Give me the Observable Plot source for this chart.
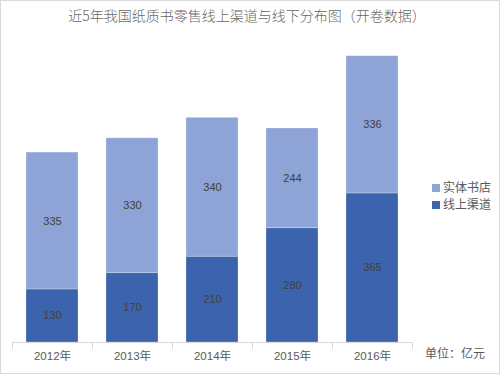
<!DOCTYPE html>
<html><head><meta charset="utf-8">
<script src="https://cdn.jsdelivr.net/npm/d3@7"></script>
<script src="https://cdn.jsdelivr.net/npm/@observablehq/plot@0.6"></script>
<style>
body{margin:0;background:#fff;}
#wrap{position:relative;width:500px;height:374px;overflow:hidden;font-family:"Liberation Sans","Noto Sans CJK SC",sans-serif;}
#title{height:30px;line-height:30px;text-align:center;font-size:14px;color:#666;font-family:"Noto Sans CJK SC",sans-serif;font-weight:300;padding-right:6px;}
#border{position:absolute;left:0;top:0;width:500px;height:374px;box-sizing:border-box;border:1px solid #d9d9d9;pointer-events:none;}
.leg{position:absolute;left:432px;font-size:12px;color:#595959;font-family:"Noto Sans CJK SC",sans-serif;line-height:14px;}
.leg span{display:inline-block;width:8px;height:8px;margin-right:3px;vertical-align:0px;}
#unit{position:absolute;left:425px;top:344px;font-size:12px;color:#595959;font-family:"Noto Sans CJK SC",sans-serif;}
</style></head>
<body>
<div id="wrap">
<div id="title">近5年我国纸质书零售线上渠道与线下分布图（开卷数据）</div>
<div id="chart"></div>
<div class="leg" style="top:180px"><span style="background:#8EA3D6"></span>实体书店</div>
<div class="leg" style="top:197px"><span style="background:#3C64AE"></span>线上渠道</div>
<div id="unit">单位：亿元</div>
<div id="border"></div>
</div>
<script>
const years = ["2012年","2013年","2014年","2015年","2016年"];
const online = [130,170,210,280,365];
const offline = [335,330,340,244,336];
const seriesNames = ["线上渠道","实体书店"];
const colors = ["#3C64AE","#8EA3D6"];

const data = [];
years.forEach((y,i)=>{
  data.push({year:y,type:seriesNames[0],value:online[i]});
  data.push({year:y,type:seriesNames[1],value:offline[i]});
});

const chart = Plot.plot({
  width:500,
  height:344,
  marginLeft:12,
  marginRight:88,
  marginTop:20,
  marginBottom:32,
  style:{fontFamily:'"Liberation Sans","Noto Sans CJK SC",sans-serif',fontSize:"11.5px",color:"#595959",background:"transparent"},
  x:{domain:years,paddingInner:0.35,paddingOuter:0.175,label:null,tickSize:0,tickPadding:9},
  y:{domain:[0,715],axis:null},
  color:{domain:seriesNames,range:colors},
  marks:[
    Plot.barY(data,{x:"year",y:"value",fill:"type",z:"type",order:seriesNames,stroke:"#ffffff",strokeOpacity:0.25,strokeWidth:1}),
    Plot.text(data,Plot.stackY({x:"year",y:"value",z:"type",order:seriesNames,text:"value",fill:"#404040",fontSize:11})),
    Plot.ruleY([0],{stroke:"#d9d9d9"}),
    Plot.link(years,{x1:d=>d,x2:d=>d,y1:0,y2:-15,dx:-40,stroke:"#d9d9d9"}),
    Plot.link([years[years.length-1]],{x1:d=>d,x2:d=>d,y1:0,y2:-15,dx:40,stroke:"#d9d9d9"})
  ]
});
document.getElementById("chart").appendChild(chart);
</script>
</body></html>
